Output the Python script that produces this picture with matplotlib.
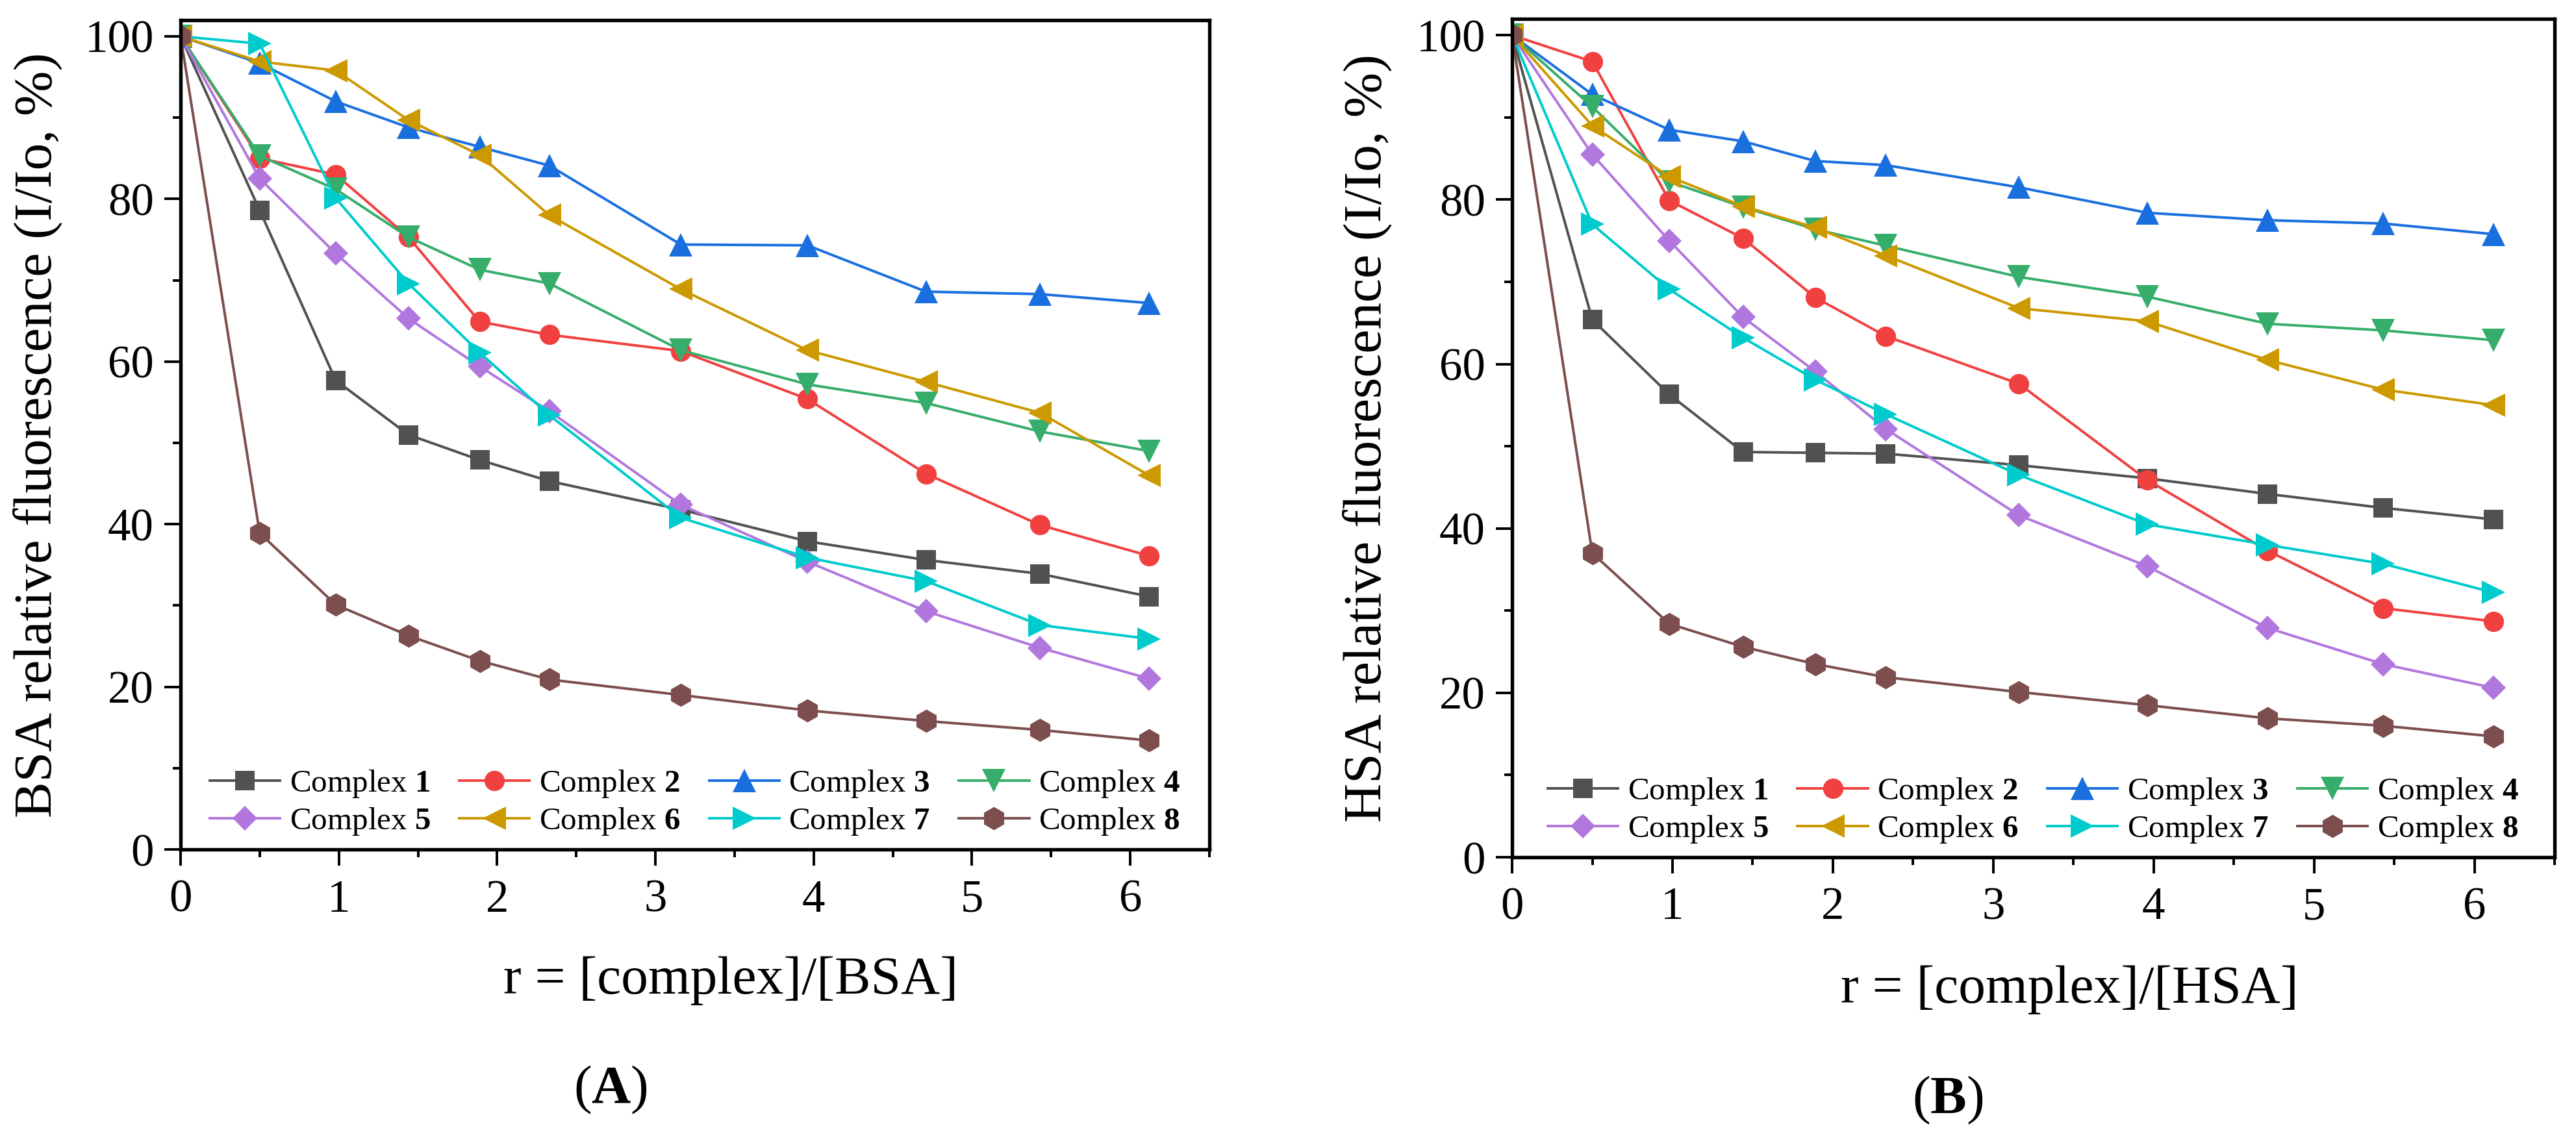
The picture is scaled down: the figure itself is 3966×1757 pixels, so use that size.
import matplotlib
matplotlib.use("Agg")
import matplotlib.pyplot as plt
from matplotlib.ticker import MultipleLocator

plt.rcParams['font.family'] = ['Liberation Serif', 'DejaVu Serif']
plt.rcParams['mathtext.fontset'] = 'custom'
plt.rcParams['mathtext.rm'] = 'Liberation Serif'
plt.rcParams['mathtext.bf'] = 'Liberation Serif:bold'

# r = [complex]/[protein]
r = [0, 0.5, 0.98, 1.44, 1.89, 2.33, 3.16, 3.96, 4.71, 5.43, 6.12]

# (A) BSA relative fluorescence (I/Io, %)
bsa_1 = [100, 78.6, 57.7, 51.0, 47.9, 45.3, 41.8, 37.9, 35.6, 33.9, 31.1]
bsa_2 = [100, 85.0, 83.0, 75.3, 64.9, 63.3, 61.3, 55.4, 46.2, 39.9, 36.1]
bsa_3 = [100, 96.7, 92.0, 88.8, 86.4, 84.1, 74.4, 74.3, 68.6, 68.3, 67.2]
bsa_4 = [100, 85.3, 81.2, 75.3, 71.3, 69.6, 61.4, 57.2, 54.9, 51.4, 49.0]
bsa_5 = [100, 82.5, 73.3, 65.3, 59.4, 53.9, 42.4, 35.4, 29.3, 24.8, 21.0]
bsa_6 = [100, 96.9, 95.8, 89.7, 85.4, 78.0, 68.9, 61.4, 57.5, 53.7, 46.0]
bsa_7 = [100, 99.1, 80.1, 69.6, 61.1, 53.4, 40.8, 35.9, 33.0, 27.6, 25.9]
bsa_8 = [100, 38.9, 30.1, 26.3, 23.2, 20.9, 19.0, 17.1, 15.8, 14.7, 13.4]

# (B) HSA relative fluorescence (I/Io, %)
hsa_1 = [100, 65.4, 56.3, 49.3, 49.2, 49.1, 47.7, 46.1, 44.2, 42.5, 41.1]
hsa_2 = [100, 96.8, 79.9, 75.3, 68.1, 63.4, 57.6, 45.9, 37.3, 30.3, 28.7]
hsa_3 = [100, 92.8, 88.5, 87.1, 84.7, 84.2, 81.5, 78.4, 77.5, 77.1, 75.8]
hsa_4 = [100, 91.3, 82.2, 79.1, 76.4, 74.4, 70.6, 68.2, 64.9, 64.1, 62.9]
hsa_5 = [100, 85.5, 75.0, 65.7, 59.1, 52.1, 41.6, 35.4, 27.9, 23.5, 20.6]
hsa_6 = [100, 89.0, 82.8, 79.2, 76.6, 73.2, 66.8, 65.2, 60.5, 56.9, 55.0]
hsa_7 = [100, 77.0, 69.1, 63.2, 58.1, 53.9, 46.5, 40.5, 38.0, 35.7, 32.2]
hsa_8 = [100, 37.0, 28.4, 25.6, 23.5, 21.9, 20.1, 18.5, 16.9, 16.0, 14.7]

labels = ['Complex $\\mathbf{%d}$' % i for i in range(1, 9)]
colors = ['#515151', '#F14040', '#1A6FDF', '#37AD6B',
          '#B177DE', '#CC9900', '#00CBCC', '#7D4E4E']
markers = ['s', 'o', '^', 'v', 'D', '<', '>', 'h']
msizes = [7, 7.5, 8.6, 8.6, 6.6, 8.6, 8.6, 8.6]

fig = plt.figure(figsize=(3966 / 300, 1757 / 300), dpi=300)
ax_a = fig.add_axes([0.0701, 0.2555, 0.3994, 0.7269])
ax_b = fig.add_axes([0.5870, 0.2487, 0.4047, 0.7348])


def draw(ax, series, protein, panel):
    lines = []
    for ys, lab, c, m, ms in zip(series, labels, colors, markers, msizes):
        ln, = ax.plot(r, ys, color=c, marker=m, markersize=ms,
                      markeredgewidth=0, linewidth=0.95, label=lab)
        lines.append(ln)
    ax.set_xlim(0, 6.5)
    ax.set_ylim(0, 102)
    ax.xaxis.set_major_locator(MultipleLocator(1))
    ax.xaxis.set_minor_locator(MultipleLocator(0.5))
    ax.yaxis.set_major_locator(MultipleLocator(20))
    ax.yaxis.set_minor_locator(MultipleLocator(10))
    ax.tick_params(which='both', direction='out', width=0.95,
                   top=False, right=False, labelsize=17)
    ax.tick_params(axis='x', which='major', length=5.9, pad=5)
    ax.tick_params(axis='y', which='major', length=5.9, pad=4)
    ax.tick_params(which='minor', length=2.8)
    for sp in ax.spines.values():
        sp.set_linewidth(1.3)
    ax.set_ylabel(protein + ' relative fluorescence (I/Io, %)', fontsize=20)
    ax.yaxis.set_label_coords(-0.139, 0.5)
    ax.yaxis.label.set_va('center')
    ax.set_xlabel('r = [complex]/[' + protein + ']', fontsize=20)
    ax.xaxis.set_label_coords(0.535, -0.158)
    ax.xaxis.label.set_va('center')
    ax.text(0.418, -0.29, '($\\mathbf{' + panel + '}$)', fontsize=20,
            ha='center', va='center', transform=ax.transAxes)
    # legend reads row by row: 1 2 3 4 / 5 6 7 8
    order = [0, 4, 1, 5, 2, 6, 3, 7]
    ax.legend([lines[i] for i in order], [labels[i] for i in order],
              loc='lower center', bbox_to_anchor=(0.5, -0.012), ncol=4,
              frameon=False, fontsize=11.8, handlelength=2.2,
              handletextpad=0.3, columnspacing=0.9, labelspacing=0.2,
              borderpad=0.2)


draw(ax_a, [bsa_1, bsa_2, bsa_3, bsa_4, bsa_5, bsa_6, bsa_7, bsa_8], 'BSA', 'A')
draw(ax_b, [hsa_1, hsa_2, hsa_3, hsa_4, hsa_5, hsa_6, hsa_7, hsa_8], 'HSA', 'B')

fig.savefig('out.png', dpi=300)
